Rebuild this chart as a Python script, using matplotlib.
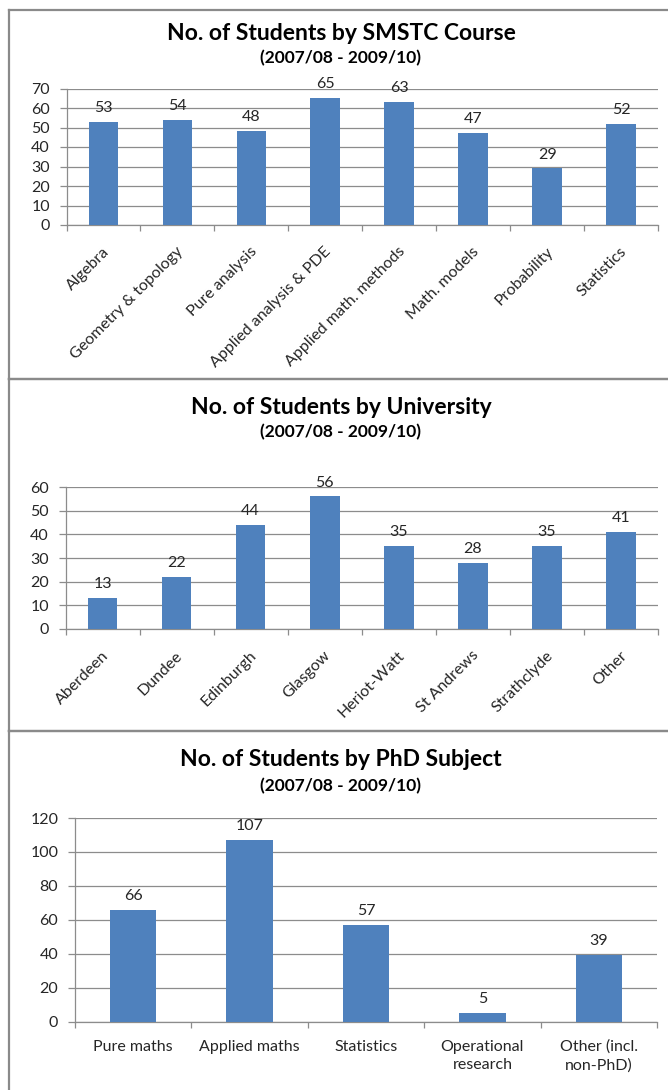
import numpy as np
import matplotlib
matplotlib.use("Agg")
from matplotlib import pyplot as plt
from matplotlib.lines import Line2D

plt.rcParams['font.family'] = ['Lato', 'DejaVu Sans']

# data
course_names = ['Algebra', 'Geometry & topology', 'Pure analysis', 'Applied analysis & PDE',
                'Applied math. methods', 'Math. models', 'Probability', 'Statistics']
course_counts = [53, 54, 48, 65, 63, 47, 29, 52]

uni_names = ['Aberdeen', 'Dundee', 'Edinburgh', 'Glasgow', 'Heriot-Watt',
             'St Andrews', 'Strathclyde', 'Other']
uni_counts = [13, 22, 44, 56, 35, 28, 35, 41]

subject_names = ['Pure maths', 'Applied maths', 'Statistics', 'Operational\nresearch',
                 'Other (incl.\nnon-PhD)']
subject_counts = [66, 107, 57, 5, 39]

titles = ['No. of Students by SMSTC Course', 'No. of Students by University',
          'No. of Students by PhD Subject']
subtitle = '(2007/08 - 2009/10)'

W, H = 668, 1090
bar_color = '#4F81BD'
grid_color = '#8C8C8C'
text_color = '#262626'
fs = 11.5

fig = plt.figure(figsize=(W / 100, H / 100), dpi=100)

def fx(px):
    return px / W

def fy(py):
    return 1 - py / H

def draw_panel(rect, names, counts, ymax, ystep, rotate):
    # rect in pixels: left, top, right, bottom
    l, t, r, b = rect
    ax = fig.add_axes([fx(l), fy(b), fx(r - l), (b - t) / H])
    x = np.arange(len(names))
    ax.bar(x, counts, width=0.4, color=bar_color, zorder=3)
    ax.set_xlim(-0.5, len(names) - 0.5)
    ax.set_ylim(0, ymax)
    ax.set_yticks(np.arange(0, ymax + 1, ystep))
    ax.yaxis.grid(True, color=grid_color, linewidth=0.9, zorder=0)
    for s in ['top', 'right']:
        ax.spines[s].set_visible(False)
    for s in ['left', 'bottom']:
        ax.spines[s].set_color(grid_color)
        ax.spines[s].set_linewidth(0.9)
    ax.tick_params(axis='y', length=5, color=grid_color, width=0.9, pad=7,
                   labelsize=fs, labelcolor=text_color)
    # category boundary ticks on x
    ax.set_xticks(np.arange(len(names) + 1) - 0.5)
    ax.set_xticklabels([])
    ax.tick_params(axis='x', length=4, color=grid_color, width=0.9)
    for xi, name in zip(x, names):
        if rotate:
            ax.annotate(name, (xi, 0), xytext=(-1, -14), textcoords='offset points',
                        ha='right', va='top', rotation=45, rotation_mode='anchor',
                        fontsize=fs, color=text_color, annotation_clip=False)
        else:
            ax.annotate(name, (xi, 0), xytext=(0, -13), textcoords='offset points',
                        ha='center', va='top', fontsize=fs, color=text_color,
                        linespacing=1.4, annotation_clip=False)
    for xi, c in zip(x, counts):
        ax.annotate(str(c), (xi, c), xytext=(0, 5), textcoords='offset points',
                    ha='center', va='bottom', fontsize=fs, color=text_color,
                    annotation_clip=False)
    return ax

draw_panel((66.5, 88.5, 658, 225), course_names, course_counts, 70, 10, True)
draw_panel((65.5, 487, 658, 629), uni_names, uni_counts, 60, 10, True)
draw_panel((75, 818, 657, 1021.5), subject_names, subject_counts, 120, 20, False)

title_base = [40.5, 414, 766]
sub_base = [63, 437, 791]
for t, ty, sy in zip(titles, title_base, sub_base):
    fig.text(fx(341), fy(ty), t, ha='center', va='baseline', fontsize=16.5,
             fontweight='bold', color='black')
    fig.text(fx(341), fy(sy), subtitle, ha='center', va='baseline', fontsize=12.5,
             fontweight='bold', color='black')

# panel borders
border = '#8A8A8A'
for top, bottom in [(9.5, 378.5), (378.5, 730.5), (730.5, 1100)]:
    fig.add_artist(Line2D([fx(8.5), fx(8.5)], [fy(top), fy(bottom)], color=border, lw=1.6))
    fig.add_artist(Line2D([fx(8.5), 1.0], [fy(top), fy(top)], color=border, lw=1.6))
    fig.add_artist(Line2D([fx(8.5), 1.0], [fy(bottom), fy(bottom)], color=border, lw=1.6))

fig.savefig('out.png', dpi=100)
